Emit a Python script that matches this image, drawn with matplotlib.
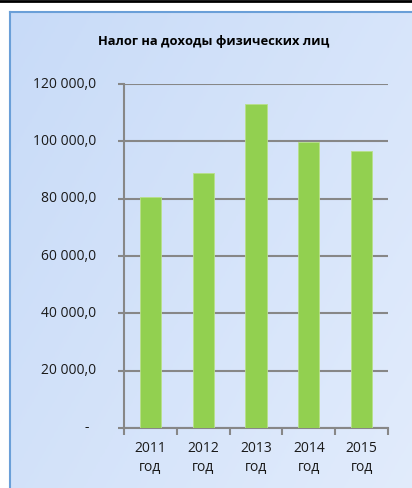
import matplotlib
matplotlib.use("Agg")
import matplotlib.pyplot as plt
import matplotlib.transforms as mtransforms
import numpy as np
from matplotlib.colors import LinearSegmentedColormap

years = ["2011\nгод", "2012\nгод", "2013\nгод", "2014\nгод", "2015\nгод"]
values = [80500, 88900, 113000, 99600, 96800]
yticks = [0, 20000, 40000, 60000, 80000, 100000, 120000]
ylabels = ["-", "20 000,0", "40 000,0", "60 000,0", "80 000,0", "100 000,0", "120 000,0"]

plt.rcParams['font.family'] = ['Open Sans', 'DejaVu Sans']

W, H = 412, 488
fig = plt.figure(figsize=(W / 100, H / 100), dpi=100)
fig.patch.set_facecolor('white')

# background panel with soft blue gradient (runs off the right/bottom edge)
bg = fig.add_axes([10 / W, -0.02, 1.02 - 10 / W, (H - 12) / H + 0.02])
gx, gy = np.meshgrid(np.linspace(0, 1, 200), np.linspace(0, 1, 200))
grad = 0.6 * gx + 0.4 * gy
cmap = LinearSegmentedColormap.from_list('bg', ['#c8dbf8', '#e2ecfc'])
bg.imshow(grad, cmap=cmap, aspect='auto', extent=[0, 1, 0, 1], origin='upper')
bg.set_xlim(0, 1)
bg.set_ylim(0, 1)
bg.set_xticks([])
bg.set_yticks([])
for s in ['top', 'left']:
    bg.spines[s].set_color('#6a9fd8')
    bg.spines[s].set_linewidth(1.5)
for s in ['right', 'bottom']:
    bg.spines[s].set_visible(False)

# black line at the very top
fig.add_artist(plt.Line2D([0, 1], [1 - 1 / H, 1 - 1 / H], color='black', lw=2,
                          transform=fig.transFigure))

ax = fig.add_axes([124 / W, (H - 428) / H, 264 / W, (428 - 84) / H])
ax.patch.set_alpha(0)
x = np.arange(len(years))
ax.bar(x, values, width=0.4, color='#92d050', edgecolor='#b8e08a', linewidth=0.6, zorder=3)

ax.set_xlim(-0.5, 4.5)
ax.set_ylim(0, 120000)
ax.set_yticks(yticks)
ax.set_yticklabels([])
ax.set_xticks(x)
ax.set_xticklabels([])
ax.set_xticks(np.arange(-0.5, 5, 1), minor=True)
ax.tick_params(axis='x', which='major', length=0)
ax.tick_params(axis='x', which='minor', length=5, color='#878787', width=1.5)
ax.tick_params(axis='y', length=4, color='#878787', width=1.5)

# tick labels placed explicitly
ytr = mtransforms.blended_transform_factory(fig.transFigure, ax.transData)
for v, lbl in zip(yticks, ylabels):
    xr = 89 if lbl == "-" else 96
    ax.text(xr / W, v, lbl, transform=ytr, ha='right', va='center', fontsize=10,
            color='#1a1a1a')
xtr = mtransforms.blended_transform_factory(ax.transData, fig.transFigure)
for xi, lbl in zip(x, years):
    top, bottom = lbl.split("\n")
    ax.text(xi, 1 - 449 / H, top, transform=xtr, ha='center', va='center', fontsize=10,
            color='#1a1a1a')
    ax.text(xi, 1 - 468 / H, bottom, transform=xtr, ha='center', va='center', fontsize=10,
            color='#1a1a1a')

ax.grid(axis='y', color='#878787', linewidth=1.5, zorder=0)
ax.spines['top'].set_visible(False)
ax.spines['right'].set_visible(False)
for s in ['left', 'bottom']:
    ax.spines[s].set_color('#878787')
    ax.spines[s].set_linewidth(1.5)

fig.text(214 / W, 1 - 42 / H, "Налог на доходы физических лиц", ha='center', va='center',
         fontsize=9.3, fontweight='bold')

fig.savefig('out.png', dpi=100)
